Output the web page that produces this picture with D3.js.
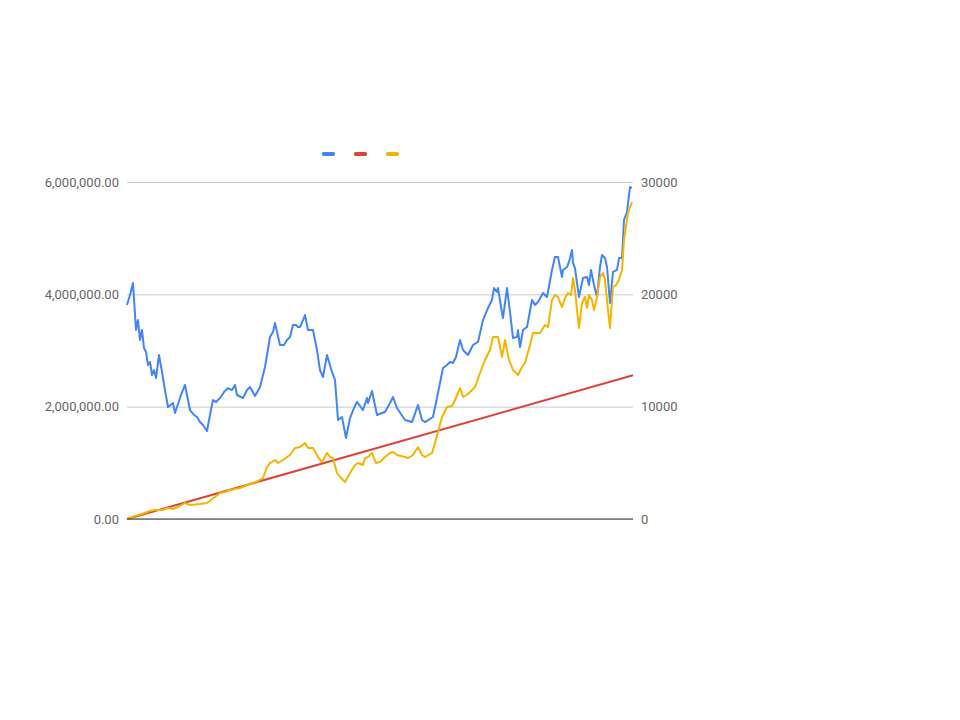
<!DOCTYPE html>
<html>
<head>
<meta charset="utf-8">
<script src="https://cdn.jsdelivr.net/npm/d3@7"></script>
<style>
  html, body { margin: 0; padding: 0; background: #fff; }
  svg { display: block; font-family: Roboto, Arial, sans-serif; }
</style>
</head>
<body>
<svg id="chart" width="960" height="720"></svg>
<script>
// ---- data (x = period index) ----
const leftTicks = [0, 2000000, 4000000, 6000000];
const rightTicks = [0, 10000, 20000, 30000];
const seriesColors = ["#4285f4", "#db4437", "#f4b400"];

// blue: price (right axis)
const priceSeries = [[0,19050],[3,19940],[6,21010],[9,16820],[11,17710],[13,15930],[15,16820],[17,15220],[19,14870],[21,13710],[23,13980],[25,12820],[27,13260],[29,12550],[32,14600],[35,13090],[38,11480],[41,9970],[46,10330],[48,9440],[50,9970],[54,11040],[58,11930],[63,9700],[67,9260],[70,9080],[73,8630],[76,8370],[80,7830],[83,9260],[86,10590],[89,10420],[93,10770],[97,11310],[101,11660],[105,11480],[108,11930],[110,11040],[116,10770],[120,11480],[123,11750],[128,10950],[133,11750],[138,13530],[143,16200],[146,16650],[148,17450],[150,16650],[153,15490],[157,15490],[160,15930],[163,16200],[166,17270],[169,17270],[171,17090],[173,17090],[176,17710],[178,18160],[181,16820],[186,16820],[190,15040],[193,13260],[196,12640],[200,14600],[205,13090],[208,12370],[211,8810],[215,9080],[219,7210],[223,8990],[227,9880],[230,10420],[236,9700],[240,10770],[241,10330],[245,11390],[250,9260],[255,9440],[258,9530],[263,10330],[266,10860],[270,9880],[274,9350],[278,8810],[285,8630],[291,10150],[295,8810],[298,8630],[306,9080],[311,11220],[316,13440],[320,13710],[323,13980],[326,13890],[329,14420],[333,15930],[336,15040],[341,14600],[346,15490],[351,15760],[356,17710],[361,18780],[365,19500],[367,20560],[370,20210],[371,20560],[375,18340],[376,17890],[380,20560],[383,18430],[386,16110],[390,16200],[391,16820],[393,15310],[396,16820],[400,17090],[405,19500],[408,19050],[411,19320],[416,20120],[420,19760],[425,22170],[428,23320],[431,23320],[435,21540],[436,22170],[440,22430],[442,22880],[445,23950],[446,22790],[448,22340],[450,21010],[452,19760],[456,21450],[460,21540],[462,20830],[464,22170],[467,20830],[470,19760],[473,22430],[475,23500],[478,23230],[480,22430],[483,19230],[486,21990],[490,22170],[492,23230],[495,23230],[497,26620],[500,27330],[503,29550],[505,29470]];

// red: invested amount (left axis)
const investedSeries = [[0,0],[506,2560000]];

// yellow: portfolio value (left axis)
const valueSeries = [[0,0],[8,53400],[15,89000],[23,142400],[28,160200],[35,160200],[41,195800],[46,178000],[51,213600],[58,284900],[63,249300],[73,267100],[80,284900],[84,338300],[88,391700],[93,462900],[98,480700],[103,516300],[108,534100],[113,551900],[120,605300],[126,640900],[131,676600],[136,730000],[140,925800],[143,997000],[145,1014800],[148,1050400],[151,997000],[156,1050400],[163,1139500],[168,1264100],[173,1281900],[178,1353100],[181,1264100],[186,1264100],[191,1103800],[195,1014800],[200,1175100],[203,1103800],[206,1086000],[210,819000],[213,747800],[218,658700],[223,819000],[228,961400],[231,997000],[236,961400],[238,1086000],[241,1103800],[245,1175100],[249,997000],[253,1014800],[258,1103800],[263,1175100],[266,1192900],[270,1139500],[278,1103800],[281,1086000],[286,1139500],[291,1281900],[295,1139500],[298,1103800],[305,1175100],[308,1353100],[311,1548900],[315,1816000],[320,1994000],[325,2011900],[328,2118700],[333,2332300],[336,2172100],[341,2225500],[348,2350100],[353,2599400],[358,2830800],[363,3008900],[366,3240300],[371,3240300],[375,2884200],[378,3186900],[382,2830800],[386,2652800],[391,2563800],[395,2706200],[398,2777400],[403,3097900],[406,3311500],[413,3311500],[418,3454000],[421,3418400],[425,3899100],[428,3988100],[431,3952500],[435,3774400],[438,3934700],[441,4023700],[444,3988100],[446,4290800],[448,4077100],[450,3721000],[452,3400600],[455,3845700],[458,3952500],[460,3756600],[462,3988100],[465,3899100],[467,3721000],[470,3952500],[473,4308600],[476,4379800],[478,4255200],[481,3721000],[483,3400600],[486,4130500],[489,4166100],[492,4255200],[495,4433200],[497,4967300],[501,5448000],[505,5643900]];

// ---- layout ----
const svg = d3.select("#chart");
const plot = { left: 127, right: 633, top: 182, bottom: 519 };

const x = d3.scaleLinear().domain([0, 506]).range([plot.left, plot.right]);
const yL = d3.scaleLinear().domain([0, 6000000]).range([plot.bottom, plot.top]);
const yR = d3.scaleLinear().domain([0, 30000]).range([plot.bottom, plot.top]);

// gridlines
const grid = svg.append("g").attr("transform", `translate(${plot.left},0)`)
  .call(d3.axisLeft(yL).tickValues(leftTicks).tickSize(-(plot.right - plot.left)).tickFormat(""));
grid.select(".domain").remove();
grid.selectAll("line").attr("stroke", "#cccccc").attr("stroke-width", 1);

// left axis labels
const la = svg.append("g").attr("transform", `translate(${plot.left},0)`)
  .call(d3.axisLeft(yL).tickValues(leftTicks).tickSize(0).tickPadding(8).tickFormat(d3.format(",.2f")));
la.select(".domain").remove();
la.selectAll("text").attr("fill", "#666").style("font-size", "13px").style("font-family", "Roboto, Arial, sans-serif");

// right axis labels
const ra = svg.append("g").attr("transform", `translate(${plot.right},0)`)
  .call(d3.axisRight(yR).tickValues(rightTicks).tickSize(0).tickPadding(8).tickFormat(d3.format("d")));
ra.select(".domain").remove();
ra.selectAll("text").attr("fill", "#666").style("font-size", "13px").style("font-family", "Roboto, Arial, sans-serif");

// lines
const lineL = d3.line().x(d => x(d[0])).y(d => yL(d[1]));
const lineR = d3.line().x(d => x(d[0])).y(d => yR(d[1]));

svg.append("path").datum(priceSeries).attr("d", lineR)
  .attr("fill", "none").attr("stroke", seriesColors[0]).attr("stroke-width", 2).attr("stroke-linejoin", "round");
svg.append("path").datum(investedSeries).attr("d", lineL)
  .attr("fill", "none").attr("stroke", seriesColors[1]).attr("stroke-width", 2);
svg.append("path").datum(valueSeries).attr("d", lineL)
  .attr("fill", "none").attr("stroke", seriesColors[2]).attr("stroke-width", 2).attr("stroke-linejoin", "round");

// baseline
svg.append("line")
  .attr("x1", plot.left).attr("x2", plot.right)
  .attr("y1", yL(0)).attr("y2", yL(0))
  .attr("stroke", "#333").attr("stroke-width", 1);

// legend (swatches only)
const legend = svg.append("g");
seriesColors.forEach((c, i) => {
  legend.append("rect")
    .attr("x", 322 + i * 32).attr("y", 152)
    .attr("width", 13).attr("height", 4).attr("rx", 1.5)
    .attr("fill", c);
});
</script>
</body>
</html>
